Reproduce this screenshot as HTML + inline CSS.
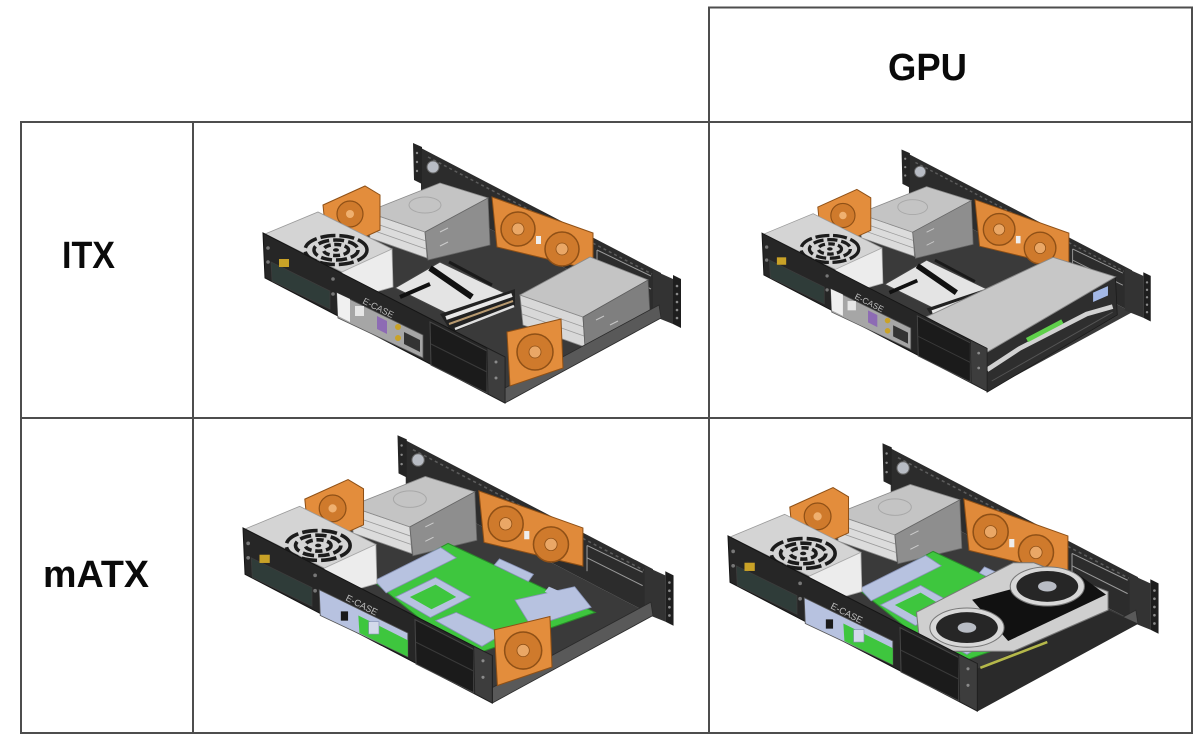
<!DOCTYPE html>
<html>
<head>
<meta charset="utf-8">
<style>
  html,body{margin:0;padding:0;background:#ffffff;}
  body{width:1200px;height:745px;overflow:hidden;}
  svg{display:block;}
  .lbl{font-family:"Liberation Sans",Arial,sans-serif;font-weight:bold;fill:#0a0a0a;}
</style>
</head>
<body>
<svg width="1200" height="745" viewBox="0 0 1200 745" xmlns="http://www.w3.org/2000/svg" xmlns:xlink="http://www.w3.org/1999/xlink">
<defs>
  <!-- floor, back wall, ears, left HDD, fans -->
  <g id="back">
    <polygon points="265,278 505,403 661,318 421,193" fill="#3a3a3a"/>
    <polygon points="421,148 661,273 661,318 421,193" fill="#2c2c2c"/>
    <polyline points="428,157 652,274" stroke="#5c5c5c" stroke-width="1.5" stroke-dasharray="3 3" fill="none"/>
    <polyline points="597,250 651,276" stroke="#9a9a9a" stroke-width="1" fill="none"/>
    <polyline points="597,262 651,289" stroke="#9a9a9a" stroke-width="1" fill="none"/>
    <polyline points="597,250 597,275" stroke="#9a9a9a" stroke-width="1" fill="none"/>
    <polygon points="413,143 422,147 422,184 414,180" fill="#242424"/>
    <circle cx="417" cy="153" r="1.2" fill="#888"/>
    <circle cx="417" cy="162" r="1.2" fill="#888"/>
    <circle cx="417" cy="171" r="1.2" fill="#888"/>
    <circle cx="433" cy="167" r="6" fill="#b8bcc4" stroke="#666" stroke-width="1"/>
    <polygon points="653,270 673,279 673,324 653,316" fill="#333"/>
    <polygon points="673,275 681,279 681,328 673,324" fill="#1e1e1e"/>
    <circle cx="677" cy="286" r="1.3" fill="#8a8a8a"/>
    <circle cx="677" cy="294" r="1.3" fill="#8a8a8a"/>
    <circle cx="677" cy="302" r="1.3" fill="#8a8a8a"/>
    <circle cx="677" cy="310" r="1.3" fill="#8a8a8a"/>
    <circle cx="677" cy="318" r="1.3" fill="#8a8a8a"/>
    <!-- left HDD stack -->
    <polygon points="370,238 367,212 425,232 427,258" fill="#dcdcdc" stroke="#8a8a8a" stroke-width="0.8"/>
    <line x1="368" y1="221" x2="426" y2="241" stroke="#9a9a9a" stroke-width="0.8"/>
    <line x1="369" y1="229" x2="426" y2="249" stroke="#9a9a9a" stroke-width="0.8"/>
    <polygon points="367,212 440,183 488,198 425,232" fill="#c4c4c4" stroke="#8a8a8a" stroke-width="0.8"/>
    <ellipse cx="425" cy="205" rx="16" ry="8" fill="none" stroke="#a8a8a8" stroke-width="1"/>
    <polygon points="425,232 488,198 490,245 428,260" fill="#8e8e8e" stroke="#666" stroke-width="0.8"/>
    <line x1="440" y1="232" x2="448" y2="228" stroke="#ccc" stroke-width="1"/>
    <line x1="440" y1="246" x2="448" y2="242" stroke="#ccc" stroke-width="1"/>
    <!-- big fans -->
    <polygon points="492,197 593,233 593,270 497,247" fill="#e08a3a" stroke="#8f5016" stroke-width="1"/>
    <circle cx="518" cy="229" r="17" fill="#cf7a2c" stroke="#8f5016" stroke-width="1.5"/>
    <circle cx="518" cy="229" r="6" fill="#eaa766" stroke="#8f5016" stroke-width="0.8"/>
    <circle cx="562" cy="249" r="17" fill="#cf7a2c" stroke="#8f5016" stroke-width="1.5"/>
    <circle cx="562" cy="249" r="6" fill="#eaa766" stroke="#8f5016" stroke-width="0.8"/>
    <rect x="536" y="236" width="5" height="8" fill="#eee"/>
    <!-- small rear fan -->
    <polygon points="323,205 365,186 380,195 380,230 358,240 325,225" fill="#e38d3c" stroke="#8f5016" stroke-width="1"/>
    <circle cx="350" cy="214" r="13" fill="#cf7a2c" stroke="#8f5016" stroke-width="1.2"/>
    <circle cx="350" cy="214" r="4" fill="#efb070"/>
  </g>

  <g id="psu">
    <polygon points="265,234 318,212 392,249 342,272" fill="#d4d4d4" stroke="#9a9a9a" stroke-width="0.8"/>
    <polygon points="342,272 392,249 393,287 344,301" fill="#ececec" stroke="#aaa" stroke-width="0.8"/>
    <g fill="none" stroke="#1c1c1c" stroke-width="3.5">
      <ellipse cx="336" cy="250" rx="31" ry="14.5" stroke-dasharray="15 4"/>
      <ellipse cx="336" cy="250" rx="22" ry="10" stroke-dasharray="11 4"/>
      <ellipse cx="336" cy="250" rx="12.5" ry="5.5" stroke-dasharray="7 3.5"/>
    </g>
    <ellipse cx="336" cy="250" rx="3" ry="1.8" fill="#1c1c1c"/>
  </g>

  <g id="mbitx">
    <polygon points="395,288 440,262 515,298 470,325" fill="#e4e4e4" stroke="#444" stroke-width="1"/>
    <line x1="430" y1="268" x2="472" y2="297" stroke="#111" stroke-width="6"/>
    <line x1="449" y1="262" x2="492" y2="285" stroke="#1a1a1a" stroke-width="3"/>
    <line x1="400" y1="297" x2="430" y2="284" stroke="#111" stroke-width="4"/>
    <polygon points="440,314 515,289 515,305 452,333" fill="#222"/>
    <line x1="446" y1="318" x2="512" y2="295" stroke="#e8e8e8" stroke-width="4"/>
    <line x1="449" y1="324" x2="513" y2="301" stroke="#b89a70" stroke-width="2"/>
    <line x1="455" y1="329" x2="514" y2="306" stroke="#e0e0e0" stroke-width="2.5"/>
  </g>

  <g id="mbatx">
    <polygon points="462,248 605,315 481,358 391,286" fill="#3ec63e" stroke="#2a8f2a" stroke-width="1"/>
    <polygon points="391,284 455,252 470,262 402,296" fill="#b7c2e0" stroke="#8792b5" stroke-width="0.8"/>
    <polygon points="411,300 450,281 484,300 445,320" fill="#b7c2e0" stroke="#8792b5" stroke-width="0.8"/>
    <polygon points="425,300 450,288 470,300 446,312" fill="#3ec63e"/>
    <polygon points="450,323 470,315 515,336 495,348" fill="#b7c2e0" stroke="#8792b5" stroke-width="0.8"/>
    <polygon points="527,303 585,290 601,310 543,329" fill="#b7c2e0" stroke="#8792b5" stroke-width="0.8"/>
    <polygon points="512,263 545,278 540,285 507,269" fill="#b7c2e0" stroke="#8792b5" stroke-width="0.8"/>
    <polygon points="560,290 590,303 585,308 556,295" fill="#b7c2e0"/>
  </g>

  <g id="rhdd">
    <polygon points="520,295 583,317 585,347 523,325" fill="#d8d8d8" stroke="#8a8a8a" stroke-width="0.8"/>
    <line x1="521" y1="305" x2="584" y2="327" stroke="#9c9c9c" stroke-width="0.8"/>
    <line x1="522" y1="314" x2="584" y2="336" stroke="#9c9c9c" stroke-width="0.8"/>
    <polygon points="520,295 590,257 648,280 583,317" fill="#c4c4c4" stroke="#8a8a8a" stroke-width="0.8"/>
    <polygon points="583,317 648,280 650,315 585,347" fill="#7f7f7f" stroke="#5c5c5c" stroke-width="0.8"/>
    <line x1="596" y1="320" x2="604" y2="316" stroke="#c8c8c8" stroke-width="1"/>
    <line x1="610" y1="325" x2="618" y2="321" stroke="#c8c8c8" stroke-width="1"/>
  </g>

  <g id="rwall">
    <polygon points="505,388 659,305 661,318 505,403" fill="#595959" stroke="#2a2a2a" stroke-width="0.8"/>
  </g>

  <g id="ffan">
    <polygon points="507,332 561,319 563,368 510,386" fill="#e38d3c" stroke="#8f5016" stroke-width="1"/>
    <circle cx="535" cy="352" r="18" fill="#cf7a2c" stroke="#8f5016" stroke-width="1.5"/>
    <circle cx="535" cy="352" r="6" fill="#eaa766" stroke="#8f5016" stroke-width="0.8"/>
  </g>

  <g id="front">
    <polygon points="263,233 505,357 505,403 265,278" fill="#262626" stroke="#151515" stroke-width="1"/>
    <polygon points="271,262 330,291 330,309 272,281" fill="#2f3c39" stroke="#3c3c3c" stroke-width="0.8"/>
    <rect x="279" y="259" width="10" height="8" fill="#c9a227"/>
    <circle cx="268" cy="248" r="1.8" fill="#777"/>
    <circle cx="268" cy="262" r="1.8" fill="#777"/>
    <circle cx="333" cy="279" r="1.8" fill="#777"/>
    <circle cx="333" cy="294" r="1.8" fill="#777"/>
    <polygon points="430,322 487,351 487,393 431,365" fill="#1b1b1b" stroke="#454545" stroke-width="1"/>
    <line x1="431" y1="344" x2="487" y2="372" stroke="#3a3a3a" stroke-width="1"/>
    <polygon points="487,348 505,357 505,403 488,394" fill="#3d3d3d" stroke="#222" stroke-width="0.8"/>
    <circle cx="496" cy="362" r="1.5" fill="#8a8a8a"/>
    <circle cx="496" cy="378" r="1.5" fill="#8a8a8a"/>
    <text x="0" y="0" transform="translate(362,303) rotate(27)" font-family="Liberation Sans, Arial, sans-serif" font-size="9" fill="#bdbdbd">E-CASE</text>
  </g>

  <g id="ioitx">
    <polygon points="337,293 423,335 423,358 338,318" fill="#a6a6a6" stroke="#555" stroke-width="0.8"/>
    <polygon points="337,293 350,299 350,322 338,316" fill="#f0f0f0"/>
    <rect x="355" y="306" width="9" height="10" fill="#e6e6e6"/>
    <polygon points="377,316 387,321 387,334 377,329" fill="#8d6bb4"/>
    <circle cx="398" cy="327" r="3" fill="#c9a227"/>
    <circle cx="398" cy="338" r="3" fill="#c9a227"/>
    <polygon points="404,332 420,340 420,352 404,344" fill="#333"/>
  </g>

  <g id="ioatx">
    <polygon points="337,293 423,335 423,358 338,318" fill="#b7c2e0" stroke="#555" stroke-width="0.8"/>
    <polygon points="375,318 423,342 423,358 376,335" fill="#3ec63e"/>
    <rect x="358" y="314" width="7" height="9" fill="#1a1a1a"/>
    <rect x="385" y="324" width="10" height="12" fill="#d3d9ea" stroke="#8792b5" stroke-width="0.6"/>
  </g>

  <g id="gpu1">
    <polygon points="505,361 643,280 645,321 505,404" fill="#2e2e2e" stroke="#1a1a1a" stroke-width="0.8"/>
    <polygon points="440,323 576,259 643,280 505,361" fill="#c7c7c7" stroke="#8a8a8a" stroke-width="1"/>
    <polyline points="505,380 540,357 612,320 640,312" stroke="#d2d2d2" stroke-width="5" fill="none"/>
    <line x1="548" y1="348" x2="586" y2="328" stroke="#5fd04a" stroke-width="5"/>
    <polygon points="619,297 635,290 635,300 619,307" fill="#a3b8e6"/>
    <line x1="510" y1="392" x2="640" y2="318" stroke="#555" stroke-width="1"/>
  </g>

  <g id="gpu2">
    <polygon points="505,362 632,305 661,318 505,403" fill="#2a2a2a"/>
    <line x1="508" y1="361" x2="573" y2="336" stroke="#b5b84a" stroke-width="2.5"/>
    <polygon points="446,307 540,259 560,259 632,287 632,305 540,345 450,345" fill="#cfcfcf" stroke="#777" stroke-width="1"/>
    <polygon points="500,295 600,268 630,290 535,335" fill="#111"/>
    <ellipse cx="495" cy="322" rx="36" ry="19" fill="#d8d8d8" stroke="#777" stroke-width="1"/>
    <ellipse cx="495" cy="322" rx="30" ry="15" fill="#262626"/>
    <ellipse cx="495" cy="322" rx="9" ry="5" fill="#b8bcc4"/>
    <ellipse cx="573" cy="282" rx="36" ry="19" fill="#d8d8d8" stroke="#777" stroke-width="1"/>
    <ellipse cx="573" cy="282" rx="30" ry="15" fill="#262626"/>
    <ellipse cx="573" cy="282" rx="9" ry="5" fill="#b8bcc4"/>
  </g>
</defs>

<!-- table grid -->
<g stroke="#4d4d4d" stroke-width="2" fill="none">
  <line x1="709" y1="7.5" x2="1193" y2="7.5"/>
  <line x1="21" y1="122" x2="1193" y2="122"/>
  <line x1="21" y1="418" x2="1193" y2="418"/>
  <line x1="21" y1="733" x2="1193" y2="733"/>
  <line x1="21" y1="121" x2="21" y2="734"/>
  <line x1="193" y1="121" x2="193" y2="734"/>
  <line x1="709" y1="6.5" x2="709" y2="734"/>
  <line x1="1192" y1="6.5" x2="1192" y2="734"/>
</g>

<!-- labels -->
<text class="lbl" x="888" y="80" font-size="38" textLength="79" lengthAdjust="spacingAndGlyphs">GPU</text>
<text class="lbl" x="62" y="268" font-size="38" textLength="53" lengthAdjust="spacingAndGlyphs">ITX</text>
<text class="lbl" x="43" y="587" font-size="38" textLength="106" lengthAdjust="spacingAndGlyphs">mATX</text>

<!-- image 1: ITX -->
<g>
  <use href="#back" xlink:href="#back"/>
  <use href="#mbitx" xlink:href="#mbitx"/>
  <use href="#rhdd" xlink:href="#rhdd"/>
  <use href="#psu" xlink:href="#psu"/>
  <use href="#rwall" xlink:href="#rwall"/>
  <use href="#ffan" xlink:href="#ffan"/>
  <use href="#front" xlink:href="#front"/>
  <use href="#ioitx" xlink:href="#ioitx"/>
</g>

<!-- image 2: ITX + GPU -->
<g transform="translate(762,235) scale(0.93) translate(-263,-235)">
  <use href="#back" xlink:href="#back"/>
  <use href="#mbitx" xlink:href="#mbitx"/>
  <use href="#psu" xlink:href="#psu"/>
  <use href="#gpu1" xlink:href="#gpu1"/>
  <use href="#front" xlink:href="#front"/>
  <use href="#ioitx" xlink:href="#ioitx"/>
</g>

<!-- image 3: mATX -->
<g transform="translate(243,530) scale(1.03) translate(-263,-235)">
  <use href="#back" xlink:href="#back"/>
  <use href="#mbatx" xlink:href="#mbatx"/>
  <use href="#psu" xlink:href="#psu"/>
  <use href="#rwall" xlink:href="#rwall"/>
  <use href="#ffan" xlink:href="#ffan"/>
  <use href="#front" xlink:href="#front"/>
  <use href="#ioatx" xlink:href="#ioatx"/>
</g>

<!-- image 4: mATX + GPU -->
<g transform="translate(728,538) scale(1.03) translate(-263,-235)">
  <use href="#back" xlink:href="#back"/>
  <use href="#mbatx" xlink:href="#mbatx"/>
  <use href="#psu" xlink:href="#psu"/>
  <use href="#rwall" xlink:href="#rwall"/>
  <use href="#gpu2" xlink:href="#gpu2"/>
  <use href="#front" xlink:href="#front"/>
  <use href="#ioatx" xlink:href="#ioatx"/>
</g>
</svg>
</body>
</html>
